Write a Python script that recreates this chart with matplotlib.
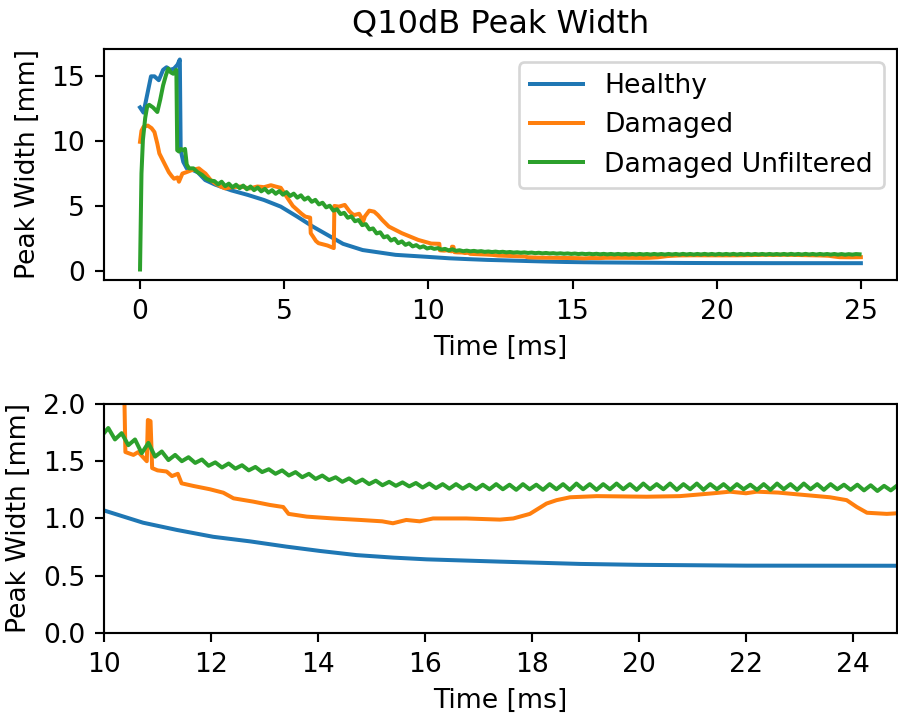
import numpy as np
import matplotlib
matplotlib.use("Agg")
import matplotlib.pyplot as plt

# Healthy
healthy_t = [0, 0.12, 0.25, 0.38, 0.5, 0.65, 0.8, 0.92, 1.05, 1.18, 1.3, 1.38, 1.41,
             1.5, 1.62, 1.8, 2.0, 2.26, 2.6, 3.17, 3.74, 4.3, 4.88, 5.45, 6.0, 6.6,
             7.04, 7.72, 8.86, 10.0, 10.73, 11.36, 12.04, 12.73, 13.41, 14.04, 14.72,
             15.41, 16.03, 16.78, 17.4, 18.9, 20.0, 22.0, 25.0]
healthy_y = [12.6, 12.2, 13.6, 15.0, 15.0, 14.7, 15.5, 15.7, 15.5, 15.6, 15.9, 16.3, 9.3,
             8.4, 7.9, 7.8, 7.6, 7.0, 6.65, 6.2, 5.85, 5.46, 4.95, 4.18, 3.4, 2.64,
             2.08, 1.6, 1.23, 1.07, 0.963, 0.90, 0.84, 0.80, 0.754, 0.716, 0.68,
             0.658, 0.643, 0.632, 0.623, 0.603, 0.595, 0.588, 0.587]

# Damaged
damaged_t = [0, 0.05, 0.12, 0.27, 0.4, 0.5, 0.6, 0.67, 0.84, 1.0, 1.1, 1.18, 1.3, 1.35,
             1.47, 1.6, 1.8, 2.04, 2.15, 2.27, 2.45, 2.6, 2.8, 2.95, 3.2, 3.5, 3.8,
             4.07, 4.3, 4.54, 4.7, 4.88, 5.0, 5.16, 5.3, 5.45, 5.6, 5.73, 5.9, 5.92,
             6.0, 6.1, 6.19, 6.5, 6.72, 6.74, 6.9, 7.1, 7.26, 7.35, 7.43, 7.6, 7.68,
             7.72, 7.8, 7.95, 8.12, 8.25, 8.4, 8.63, 9.08, 9.65, 10.1, 10.38, 10.4,
             10.55, 10.64, 10.8, 10.82, 10.87, 10.9, 11.0, 11.17, 11.27, 11.38, 11.45,
             11.67, 11.98, 12.23, 12.42, 12.79, 13.1, 13.35, 13.45, 13.79, 14.29,
             14.79, 15.2, 15.4, 15.65, 15.9, 16.15, 16.77, 17.4, 17.65, 17.96, 18.27,
             18.46, 18.71, 19.21, 20.14, 20.76, 21.39, 21.7, 22.0, 22.2, 22.6, 22.95,
             23.57, 23.88, 24.07, 24.26, 24.63, 25.0]
damaged_y = [9.95, 10.8, 11.1, 11.2, 11.0, 10.7, 9.8, 9.05, 8.3, 7.6, 7.3, 7.1, 7.2, 6.87,
             7.5, 7.6, 7.77, 7.9, 7.7, 7.5, 7.0, 6.75, 6.5, 6.36, 6.45, 6.5, 6.35,
             6.5, 6.45, 6.6, 6.5, 6.4, 6.0, 5.46, 5.0, 4.7, 4.4, 4.18, 4.1, 2.9,
             2.64, 2.3, 2.13, 1.95, 1.75, 5.0, 4.95, 5.08, 4.6, 4.4, 4.3, 4.4, 4.1,
             3.67, 4.2, 4.64, 4.56, 4.3, 3.92, 3.41, 2.9, 2.38, 2.1, 2.08, 1.58,
             1.555, 1.58, 1.50, 1.86, 1.85, 1.44, 1.42, 1.41, 1.37, 1.39, 1.307,
             1.284, 1.255, 1.225, 1.176, 1.147, 1.118, 1.10, 1.04, 1.016, 1.00,
             0.987, 0.975, 0.958, 0.987, 0.975, 1.0, 1.0, 0.99, 1.0, 1.04, 1.13,
             1.16, 1.185, 1.195, 1.19, 1.195, 1.22, 1.234, 1.22, 1.234, 1.226, 1.211,
             1.185, 1.16, 1.10, 1.05, 1.04, 1.05]

# Damaged Unfiltered: transient part, then ripple samples every 0.125 ms from 2.58 ms
unf_t_start = [0, 0.02, 0.05, 0.1, 0.18, 0.25, 0.32, 0.45, 0.6, 0.7, 0.8, 0.9, 0.98,
               1.07, 1.15, 1.26, 1.29, 1.35, 1.42, 1.5, 1.56, 1.62, 1.7, 1.85, 2.0,
               2.15, 2.3, 2.45]
unf_y_start = [0.1, 3.0, 7.5, 10.1, 11.8, 12.7, 12.8, 12.6, 12.25, 13.2, 14.3, 15.1, 15.6,
               15.3, 15.2, 15.5, 9.3, 9.2, 9.4, 9.3, 9.4, 8.2, 7.9, 7.9, 7.6,
               7.4, 7.1, 6.95]
unf_ripple_t0 = 2.58
unf_ripple_dt = 0.125
unf_ripple_y = [
    6.92, 6.67, 6.87, 6.53, 6.72, 6.44, 6.64, 6.37, 6.57, 6.29,
    6.50, 6.22, 6.42, 6.13, 6.32, 6.03, 6.22, 5.94, 6.15, 5.87,
    6.07, 5.77, 5.95, 5.64, 5.82, 5.49, 5.65, 5.32, 5.47, 5.12,
    5.25, 4.89, 5.02, 4.64, 4.75, 4.37, 4.47, 4.09, 4.20, 3.82,
    3.92, 3.52, 3.60, 3.19, 3.27, 2.88, 2.97, 2.58, 2.67, 2.33,
    2.47, 2.13, 2.27, 2.00, 2.12, 1.88, 1.98, 1.79, 1.89, 1.72,
    1.79, 1.69, 1.745, 1.64, 1.69, 1.57, 1.66, 1.54, 1.585, 1.51,
    1.555, 1.50, 1.535, 1.485, 1.515, 1.46, 1.49, 1.445, 1.48, 1.435,
    1.465, 1.42, 1.45, 1.405, 1.43, 1.39, 1.42, 1.375, 1.405, 1.36,
    1.39, 1.345, 1.375, 1.335, 1.36, 1.32, 1.35, 1.31, 1.34, 1.30,
    1.33, 1.29, 1.32, 1.285, 1.315, 1.28, 1.31, 1.27, 1.305, 1.265,
    1.30, 1.26, 1.30, 1.26, 1.295, 1.255, 1.295, 1.255, 1.30, 1.255,
    1.295, 1.25, 1.30, 1.255, 1.295, 1.25, 1.30, 1.255, 1.30, 1.25,
    1.305, 1.255, 1.30, 1.25, 1.30, 1.255, 1.305, 1.255, 1.30, 1.25,
    1.305, 1.255, 1.30, 1.255, 1.305, 1.25, 1.30, 1.255, 1.305, 1.25,
    1.30, 1.255, 1.30, 1.25, 1.30, 1.255, 1.295, 1.25, 1.30, 1.25,
    1.305, 1.255, 1.30, 1.25, 1.305, 1.255, 1.30, 1.25, 1.30, 1.255,
    1.295, 1.25, 1.295, 1.245, 1.29, 1.24, 1.285, 1.245, 1.29, 1.27,
]

unf_t = np.concatenate([unf_t_start,
                        unf_ripple_t0 + unf_ripple_dt * np.arange(len(unf_ripple_y))])
unf_y = np.concatenate([unf_y_start, unf_ripple_y])

dpi = 192
fig = plt.figure(figsize=(898 / dpi, 717 / dpi), dpi=dpi)
ax1 = fig.add_axes([0.1158, 0.6095, 0.883, 0.3222])
ax2 = fig.add_axes([0.1158, 0.1172, 0.883, 0.3194])

ax1.plot(healthy_t, healthy_y, label='Healthy')
ax1.plot(damaged_t, damaged_y, label='Damaged')
ax1.plot(unf_t, unf_y, label='Damaged Unfiltered')
ax1.set_title('Q10dB Peak Width')
ax1.set_xlabel('Time [ms]')
ax1.set_ylabel('Peak Width [mm]')
ax1.legend(loc='upper right')

ax2.plot(healthy_t, healthy_y)
ax2.plot(damaged_t, damaged_y)
ax2.plot(unf_t, unf_y)
ax2.set_xlim(10, 24.82)
ax2.set_ylim(0, 2)
ax2.set_xlabel('Time [ms]')
ax2.set_ylabel('Peak Width [mm]')

fig.savefig('out.png', dpi=dpi)
